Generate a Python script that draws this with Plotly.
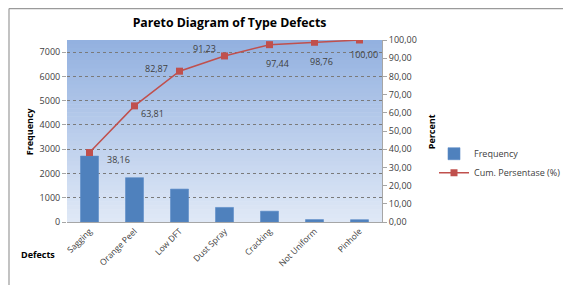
import plotly.graph_objects as go

categories = ["Sagging", "Orange Peel", "Low DFT", "Dust Spray", "Cracking", "Not Uniform", "Pinhole"]
frequency = [2716, 1826, 1356, 600, 446, 100, 95]
cum_percent = [38.16, 63.81, 82.87, 91.23, 97.44, 98.76, 100.00]
right_ticks = [0, 10, 20, 30, 40, 50, 60, 70, 80, 90, 100]

# pixel offsets of each data label from its marker (style)
label_dx = [29, 18, -23, -20, 8, 7, 4]
label_dy = [7, 8, -3, -7, 19, 19, 14]

def comma(v):
    return f"{v:.2f}".replace(".", ",")

TXT = "#404040"
FONT = "Open Sans"

# plot area in pixels
L, R, T, B = 67, 382, 39.5, 222
W, H = 563, 285
PW, PH = R - L, B - T

fig = go.Figure()
fig.add_trace(go.Bar(
    x=categories, y=frequency, name="Frequency",
    marker=dict(color="#4f81bd", line=dict(color="#5b8cc8", width=0.6)),
    width=0.4,
))
fig.add_trace(go.Scatter(
    x=categories, y=cum_percent, name="Cum. Persentase (%)", yaxis="y2",
    mode="lines+markers",
    line=dict(color="#c0504d", width=1.5),
    marker=dict(symbol="square", size=7, color="#c0504d"),
))

# gradient plot background made of strips
n = 45
top = (0x93, 0xb1, 0xe0)
bot = (0xdf, 0xe8, 0xf6)
shapes = []
for i in range(n):
    t = i / (n - 1)
    c = tuple(int(round(bot[k] + (top[k] - bot[k]) * t)) for k in range(3))
    shapes.append(dict(type="rect", xref="x domain", yref="y domain",
                       x0=0, x1=1, y0=i / n, y1=min(1, (i + 1) / n + 0.003),
                       fillcolor="rgb(%d,%d,%d)" % c, line=dict(width=0), layer="below"))
# outer border (top and left visible)
shapes.append(dict(type="line", xref="paper", yref="paper",
                   x0=(9 - L) / PW, x1=(W + 5 - L) / PW, y0=(B - 8) / PH, y1=(B - 8) / PH,
                   line=dict(color="#9a9a9a", width=1.2)))
shapes.append(dict(type="line", xref="paper", yref="paper",
                   x0=(9 - L) / PW, x1=(9 - L) / PW, y0=(B - 8) / PH, y1=(B - H - 5) / PH,
                   line=dict(color="#9a9a9a", width=1.2)))

annotations = [
    dict(text="<b>Frequency</b>", textangle=-90, xref="paper", yref="paper",
         x=(29 - L) / PW, y=(B - 131) / PH, xanchor="center", yanchor="middle",
         showarrow=False, font=dict(size=9, color="#000000")),
    dict(text="<b>Percent</b>", textangle=-90, xref="paper", yref="paper",
         x=(431 - L) / PW, y=(B - 131) / PH, xanchor="center", yanchor="middle",
         showarrow=False, font=dict(size=9, color="#000000")),
    dict(text="<b>Defects</b>", xref="paper", yref="paper",
         x=(38 - L) / PW, y=(B - 255) / PH, xanchor="center", yanchor="middle",
         showarrow=False, font=dict(size=9, color="#000000")),
]
for cat, v, dx, dy in zip(categories, cum_percent, label_dx, label_dy):
    annotations.append(dict(text=comma(v), x=cat, y=v, xref="x", yref="y2",
                            xshift=dx, yshift=-dy, showarrow=False,
                            font=dict(size=9, color=TXT, family=FONT)))

fig.update_layout(
    width=W, height=H,
    margin=dict(l=L, r=W - R, t=T, b=H - B, autoexpand=False),
    paper_bgcolor="white", plot_bgcolor="rgba(0,0,0,0)",
    font=dict(family=FONT, size=9, color=TXT),
    shapes=shapes,
    annotations=annotations,
    showlegend=True,
    legend=dict(x=(434 - L) / PW, y=(B - 139) / PH, xanchor="left", yanchor="top",
                font=dict(size=9, color=TXT, family=FONT),
                bgcolor="rgba(0,0,0,0)", itemwidth=30),
    title=dict(text="<b>Pareto Diagram of Type Defects</b>", x=229.5 / W, xanchor="center",
               y=1 - 23 / H, yanchor="middle", font=dict(size=12.3, color="#000000", family=FONT)),
    xaxis=dict(tickangle=-45, showgrid=False, showline=True, linecolor="#a6a6a6",
               tickfont=dict(size=8.5, color=TXT), ticks="", automargin=False),
    yaxis=dict(range=[0, 7500], dtick=1000, showgrid=True, gridcolor="#7a7a7a",
               griddash="dot", gridwidth=0.8, zeroline=False, showline=False,
               ticks="outside", ticklen=4, tickcolor="#a6a6a6",
               tickfont=dict(size=9, color=TXT), automargin=False),
    yaxis2=dict(range=[0, 100], overlaying="y", side="right", showgrid=False,
                tickvals=right_ticks, ticktext=[comma(v) for v in right_ticks],
                showline=True, linecolor="#a6a6a6", ticks="outside", ticklen=4,
                tickcolor="#a6a6a6", tickfont=dict(size=9, color=TXT), zeroline=False,
                automargin=False),
)

fig.write_html("out.html", config={"displayModeBar": False},
               post_script="document.body.style.margin='0';")
